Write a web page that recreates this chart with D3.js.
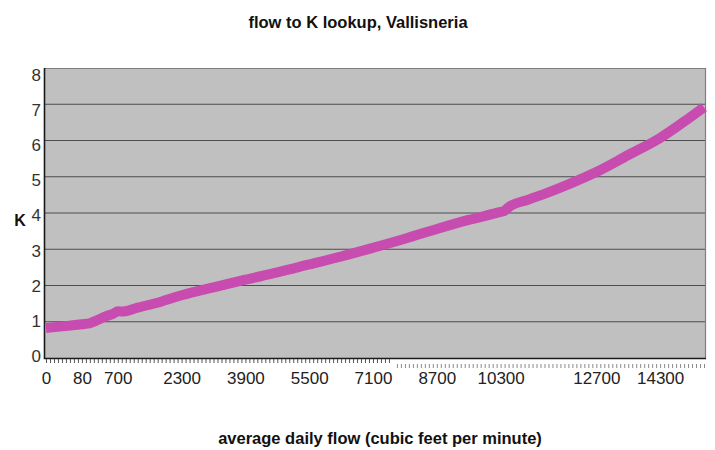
<!DOCTYPE html>
<html>
<head>
<meta charset="utf-8">
<script src="https://cdnjs.cloudflare.com/ajax/libs/d3/7.8.5/d3.min.js"></script>
<style>
    body { margin: 0; background: #fff; }
    svg { display: block; font-family: Arial, "Liberation Sans", sans-serif; }
    .domain { display: none; }
</style>
</head>
<body>
<svg id="chart" width="715" height="450"></svg>
<script>
    // category axis (flow, cubic feet per minute)
    var lowFlows = [0, 5, 10, 20, 30, 40, 50, 60, 70, 80, 90, 100, 150, 200, 300, 400, 500, 600, 700];
    var highFlows = d3.range(800, 15500, 100);
    var labelFlows = [0, 80, 700, 2300, 3900, 5500, 7100, 8700, 10300, 12700, 14300];
    var kTicks = [0, 1, 2, 3, 4, 5, 6, 7, 8];

    // K at some of the flows
    var readFlows = [0, 40, 80, 100, 200, 400, 600, 700, 800, 1200, 1800, 2300, 3100, 3900, 4700, 5500,
        6300, 7100, 7900, 8700, 9500, 10300, 10400, 10500, 11000, 11500, 12000, 12700, 13500, 14300, 14900, 15400];
    var readK = [0.83, 0.88, 0.93, 0.96, 1.05, 1.15, 1.23, 1.29, 1.28, 1.39, 1.56, 1.73, 1.95, 2.16, 2.36, 2.58,
        2.80, 3.04, 3.29, 3.56, 3.81, 4.03, 4.06, 4.16, 4.37, 4.57, 4.79, 5.13, 5.60, 6.07, 6.52, 6.92];

(function(){
    "use strict";

    var svg = d3.select("#chart");
    var margin = {top: 68, left: 44, right: 9, bottom: 92};
    var width = 715 - margin.left - margin.right,
        height = 450 - margin.top - margin.bottom;

    var flows = lowFlows.concat(highFlows);

    var x = d3.scalePoint()
        .domain(flows)
        .range([0, width])
        .padding(0.5);

    var y = d3.scaleLinear()
        .domain([0, 8])
        .range([height, 0]);

    // the labels on the value axis sit a bit off the gridlines
    var yLabel = d3.scaleLinear()
        .domain([0, 8])
        .range([height - 2, 7]);

    var g = svg.append("g")
        .attr("transform", "translate(" + margin.left + "," + margin.top + ")");

    /*
        plot area, gridlines and frame
    */
    function drawBackground(){
        g.append("rect")
            .attr("width", width)
            .attr("height", height)
            .attr("fill", "#c0c0c0");

        g.selectAll("line.grid")
            .data(kTicks.slice(1, -1))
            .enter().append("line")
            .attr("class", "grid")
            .attr("x1", 0)
            .attr("x2", width)
            .attr("y1", function(d){ return y(d); })
            .attr("y2", function(d){ return y(d); })
            .attr("stroke", "#4d4d4d")
            .attr("stroke-width", 1);

        g.append("path")
            .attr("d", "M0,0.5H" + (width - 0.5) + "V" + height)
            .attr("fill", "none")
            .attr("stroke", "#7f7f7f")
            .attr("stroke-width", 1.2);

        g.append("path")
            .attr("d", "M0.5,0V" + (height + 0.5) + "H" + width)
            .attr("fill", "none")
            .attr("stroke", "#1a1a1a")
            .attr("stroke-width", 1.6);
    }

    /*
        category axis: two rows of minor ticks and the flow labels
    */
    function drawXAxis(){
        var firstRow = flows.filter(function(f){ return f <= 7500; });
        var secondRow = flows.filter(function(f){ return f >= 7700; });

        g.append("g")
            .attr("transform", "translate(0," + (height + 1) + ")")
            .call(d3.axisBottom(x).tickValues(firstRow).tickSize(4).tickFormat(""))
            .selectAll("line").attr("stroke", "#555");

        g.append("g")
            .attr("transform", "translate(0," + (height + 6) + ")")
            .call(d3.axisBottom(x).tickValues(secondRow).tickSize(4).tickFormat(""))
            .selectAll("line").attr("stroke", "#8a8a8a");

        var labels = g.append("g")
            .attr("transform", "translate(0," + (height + 14) + ")")
            .call(d3.axisBottom(x).tickValues(labelFlows).tickSize(0).tickPadding(0));
        labels.selectAll("text")
            .attr("font-size", 17)
            .attr("font-family", "Arial, 'Liberation Sans', sans-serif")
            .attr("fill", "#222");
    }

    function drawYAxis(){
        var axis = g.append("g")
            .call(d3.axisLeft(yLabel).tickValues(kTicks).tickSize(0).tickPadding(3).tickFormat(d3.format("d")));
        axis.selectAll("text")
            .attr("font-size", 17)
            .attr("font-family", "Arial, 'Liberation Sans', sans-serif")
            .attr("fill", "#333");
    }

    function drawLine(){
        var points = readFlows.map(function(f, i){
            return {flow: f, k: readK[i]};
        });

        var line = d3.line()
            .curve(d3.curveMonotoneX)
            .x(function(d){ return x(d.flow); })
            .y(function(d){ return y(d.k); });

        g.append("path")
            .datum(points)
            .attr("d", line)
            .attr("fill", "none")
            .attr("stroke", "#c84bb0")
            .attr("stroke-width", 10)
            .attr("stroke-linejoin", "round");
    }

    function drawTitles(){
        svg.append("text")
            .attr("x", 358)
            .attr("y", 28)
            .attr("text-anchor", "middle")
            .attr("font-size", 16.5)
            .attr("font-weight", "bold")
            .attr("fill", "#111")
            .text("flow to K lookup, Vallisneria");

        svg.append("text")
            .attr("x", 380)
            .attr("y", 444)
            .attr("text-anchor", "middle")
            .attr("font-size", 16.5)
            .attr("font-weight", "bold")
            .attr("fill", "#111")
            .text("average daily flow (cubic feet per minute)");

        svg.append("text")
            .attr("x", 20)
            .attr("y", 226)
            .attr("text-anchor", "middle")
            .attr("font-size", 16)
            .attr("font-weight", "bold")
            .attr("fill", "#111")
            .text("K");
    }

    drawBackground();
    drawXAxis();
    drawYAxis();
    drawLine();
    drawTitles();
}());
</script>
</body>
</html>
